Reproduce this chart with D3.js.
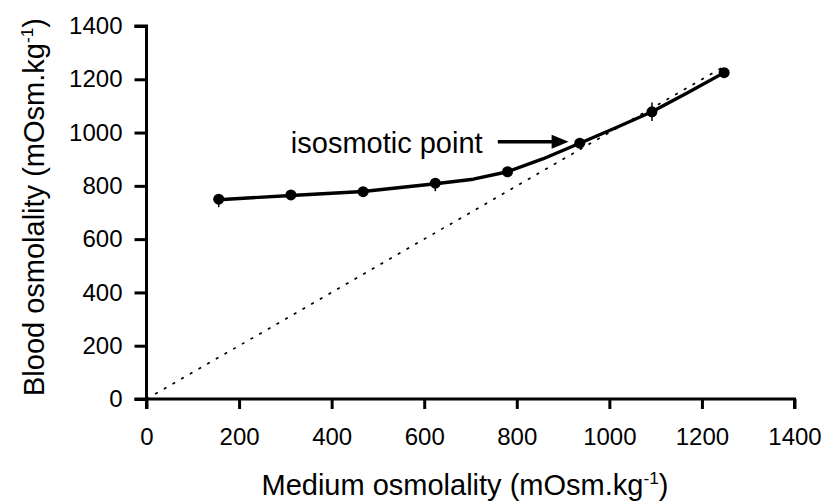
<!DOCTYPE html>
<html>
<head>
<meta charset="utf-8">
<script src="https://cdn.jsdelivr.net/npm/d3@7"></script>
<style>
  html, body { margin: 0; padding: 0; background: #fff; }
  text { font-family: "Liberation Sans", Arial, sans-serif; fill: #000; }
</style>
</head>
<body>
<svg id="chart" width="822" height="502"></svg>
<script>
// ---- data ----
const mediumOsm = [156, 312, 468, 624, 780, 936, 1092, 1248];
const bloodOsm  = [750, 766, 778, 810, 853, 960, 1078, 1225];
const errLow    = [30, 12, 6, 30, 8, 10, 35, 6];
const errHigh   = [4, 14, 6, 4, 8, 10, 35, 6];
const fitX = [156, 312, 468, 624, 706, 780, 856, 936, 1014, 1092, 1170, 1248];
const fitY = [748, 764, 779, 808, 825, 853, 901, 960, 1018, 1078, 1150, 1225];
const isoLine = [0, 1250];
const xTicks = [0, 200, 400, 600, 800, 1000, 1200, 1400];
const yTicks = [0, 200, 400, 600, 800, 1000, 1200, 1400];
const annotText = "isosmotic point";
const annotTextPos = [314, 922];
const arrowFrom = [759, 966];
const arrowTo = [912, 966];

// ---- layout ----
const svg = d3.select("#chart");
const x = d3.scaleLinear().domain([0, 1400]).range([146.5, 794.5]);
const y = d3.scaleLinear().domain([0, 1400]).range([399, 26]);
const FS_TICK = 24;
const FS = 29;

// isosmotic dotted line
svg.append("line")
  .attr("x1", x(isoLine[0])).attr("y1", y(isoLine[0]))
  .attr("x2", x(isoLine[1])).attr("y2", y(isoLine[1]))
  .attr("stroke", "#000").attr("stroke-width", 1.7)
  .attr("stroke-dasharray", "3,7");

// axes
const xAxis = svg.append("g").attr("transform", `translate(0,${y(0)})`)
  .call(d3.axisBottom(x).tickValues(xTicks).tickSize(10).tickPadding(19).tickFormat(d3.format("d")));
const yAxis = svg.append("g").attr("transform", `translate(${x(0)},0)`)
  .call(d3.axisLeft(y).tickValues(yTicks).tickSize(12).tickPadding(12).tickFormat(d3.format("d")));
[xAxis, yAxis].forEach(g => {
  g.select(".domain").attr("stroke", "#000").attr("stroke-width", 3);
  g.selectAll(".tick line").attr("stroke", "#000").attr("stroke-width", 3);
  g.selectAll(".tick text").attr("font-size", FS_TICK)
    .attr("font-family", "Liberation Sans, Arial, sans-serif").attr("fill", "#000");
});
xAxis.select(".domain").attr("d", `M${x(0)},10V0H${x(1400)}V10`);
yAxis.select(".domain").attr("d", `M-12,${y(1400)}H0V${y(0)}H-12`);

// fitted line
const pts = fitX.map((d, i) => [d, fitY[i]]);
svg.append("path")
  .attr("d", d3.line().x(d => x(d[0])).y(d => y(d[1])).curve(d3.curveLinear)(pts))
  .attr("fill", "none").attr("stroke", "#000").attr("stroke-width", 3.4)
  .attr("stroke-linejoin", "round");

// error bars
svg.selectAll(".err").data(mediumOsm).enter().append("line")
  .attr("x1", d => x(d)).attr("x2", d => x(d))
  .attr("y1", (d, i) => y(bloodOsm[i] - errLow[i]))
  .attr("y2", (d, i) => y(bloodOsm[i] + errHigh[i]))
  .attr("stroke", "#000").attr("stroke-width", 1.5);

// markers
svg.selectAll(".pt").data(mediumOsm).enter().append("circle")
  .attr("cx", d => x(d)).attr("cy", (d, i) => y(bloodOsm[i]))
  .attr("r", 5.5).attr("fill", "#000");

// annotation
svg.append("text").attr("x", x(annotTextPos[0]) - 1).attr("y", y(annotTextPos[1]))
  .attr("font-size", FS).text(annotText);
const ax1 = x(arrowFrom[0]), ax2 = x(arrowTo[0]), ay = y(arrowFrom[1]);
svg.append("line").attr("x1", ax1).attr("y1", ay).attr("x2", ax2 - 14).attr("y2", ay)
  .attr("stroke", "#000").attr("stroke-width", 3.5);
svg.append("path")
  .attr("d", `M${ax2},${ay}L${ax2 - 17},${ay - 7}L${ax2 - 17},${ay + 7}Z`)
  .attr("fill", "#000");

// axis titles
const xt = svg.append("text").attr("x", 465).attr("y", 495)
  .attr("text-anchor", "middle").attr("font-size", FS);
xt.append("tspan").text("Medium osmolality (mOsm.kg");
xt.append("tspan").attr("font-size", FS * 0.6).attr("dy", -11).text("-1");
xt.append("tspan").attr("dy", 11).text(")");

const yt = svg.append("text")
  .attr("transform", `translate(44,207) rotate(-90)`)
  .attr("text-anchor", "middle").attr("font-size", FS);
yt.append("tspan").text("Blood osmolality (mOsm.kg");
yt.append("tspan").attr("font-size", FS * 0.6).attr("dy", -11).text("-1");
yt.append("tspan").attr("dy", 11).text(")");
</script>
</body>
</html>
